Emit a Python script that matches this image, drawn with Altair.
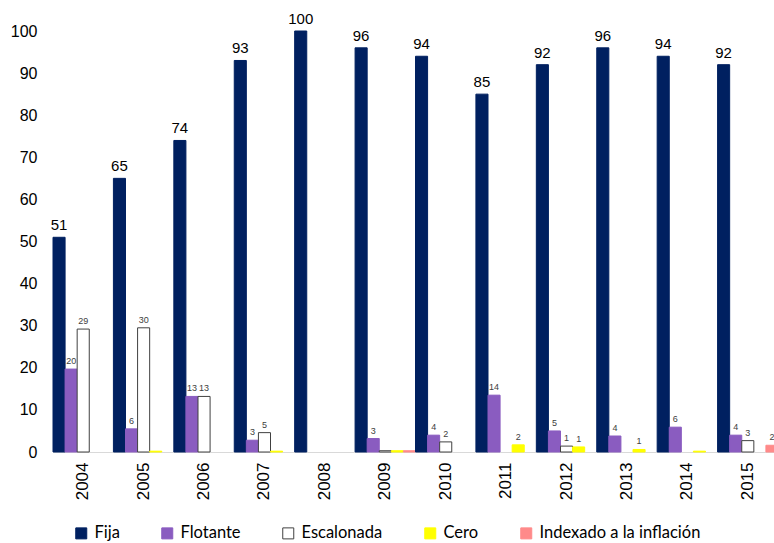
import altair as alt
import pandas as pd

# Share of issuance by coupon type, per year (%)
years = [str(y) for y in range(2004, 2016)]
series = ["Fija", "Flotante", "Escalonada", "Cero", "Indexado a la inflación"]

fija = [51, 65, 74, 93, 100, 96, 94, 85, 92, 96, 94, 92]
flotante = [19.7, 5.5, 13.2, 2.8, 0, 3.2, 4.0, 13.5, 5.0, 3.8, 5.9, 4.0]
escalonada = [29.2, 29.5, 13.2, 4.6, 0, 0.3, 2.4, 0, 1.4, 0, 0, 2.7]
cero = [0, 0.2, 0, 0.2, 0, 0.3, 0, 1.7, 1.2, 0.6, 0.2, 0]
indexado = [0, 0, 0, 0, 0, 0.3, 0, 0, 0, 0, 0, 1.6]

fills = ["#002060", "#8A5CC0", "#FFFFFF", "#FFFF00", "#FF8A8A"]
strokes = ["#002060", "#8A5CC0", "#404040", "#FFFF00", "#FF8A8A"]

rows = []
for i, yr in enumerate(years):
    for s, vals in zip(series, [fija, flotante, escalonada, cero, indexado]):
        rows.append({"anio": yr, "serie": s, "v": vals[i]})
df = pd.DataFrame(rows)

FONT = "Liberation Sans"

x = alt.X(
    "anio:N",
    title=None,
    scale=alt.Scale(domain=years, paddingInner=0, paddingOuter=0, range=[0, 725]),
    axis=alt.Axis(
        labelAngle=-90,
        labelFont=FONT,
        labelFontSize=17,
        labelColor="#000000",
        labelPadding=10,
        ticks=False,
        domainColor="#D9D9D9",
        domainWidth=1,
    ),
)
xoff = alt.XOffset("serie:N", scale=alt.Scale(domain=series, paddingInner=0, paddingOuter=0))
y = alt.Y(
    "v:Q",
    title=None,
    scale=alt.Scale(domain=[0, 100], nice=False),
    axis=alt.Axis(
        values=list(range(0, 101, 10)),
        domain=False,
        ticks=False,
        grid=False,
        labelFont=FONT,
        labelFontSize=16,
        labelColor="#000000",
        labelPadding=16,
    ),
)

legend = alt.Legend(
    title=None,
    orient="none",
    direction="horizontal",
    legendX=20,
    legendY=494,
    symbolType="square",
    symbolSize=121,
    symbolStrokeWidth=1,
    labelFont="Lato",
    labelFontSize=16.5,
    labelColor="#000000",
    labelOffset=5,
    labelLimit=0,
    columnPadding=39,
)

base = alt.Chart(df)

bars = base.transform_filter("datum.v > 0").mark_bar(strokeWidth=1).encode(
    x=x,
    xOffset=xoff,
    y=y,
    fill=alt.Fill("serie:N", scale=alt.Scale(domain=series, range=fills), legend=legend),
    stroke=alt.Stroke("serie:N", scale=alt.Scale(domain=series, range=strokes), legend=legend),
)

big_labels = base.transform_filter("datum.serie == 'Fija'").mark_text(
    font=FONT, fontSize=15, color="#000000", dy=-7, baseline="alphabetic"
).encode(x=x, xOffset=xoff, y=y, text=alt.Text("v:Q", format=".0f"))

small_labels = base.transform_filter("datum.serie != 'Fija' && datum.v >= 0.5").mark_text(
    font=FONT, fontSize=9, color="#404040", dy=-5, baseline="alphabetic"
).encode(x=x, xOffset=xoff, y=y, text=alt.Text("v:Q", format=".0f"))

chart = (
    alt.layer(bars, big_labels, small_labels)
    .properties(
        width=721,
        height=421,
        autosize=alt.AutoSizeParams(type="none"),
        padding={"left": 53, "top": 31, "right": 0, "bottom": 91},
        background="white",
    )
    .configure_view(stroke=None)
)

chart.save("out.html", embed_options={"renderer": "svg", "actions": False})
